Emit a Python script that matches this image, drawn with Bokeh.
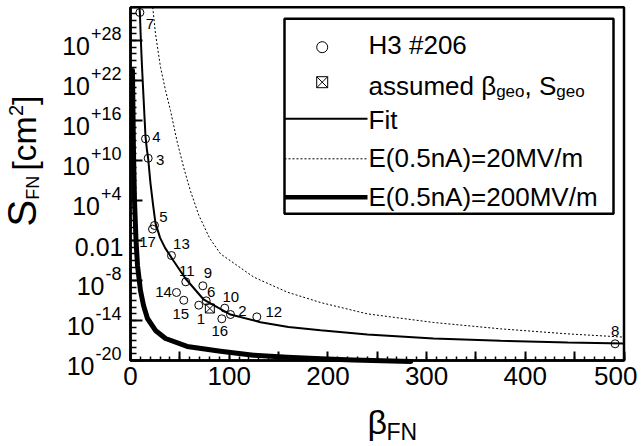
import math
from bokeh.plotting import figure
from bokeh.models import (FixedTicker, Label, BoxAnnotation, ColumnDataSource,
                          BasicTickFormatter, LinearAxis, LogAxis)
from bokeh.core.properties import value
from bokeh.embed import file_html
from bokeh.resources import INLINE

# ---------------- data ----------------
point_ids = ["7", "4", "3", "5", "17", "13", "11", "9", "14", "15", "6", "1", "10", "2", "16", "12", "8"]
beta_points = [9.5, 15.2, 17.9, 24.3, 22.3, 41.5, 56.0, 73.3, 46.6, 54.0, 76.7, 69.2, 95.5, 101.3, 92.5, 128.0, 491.0]
s_points = [1.6e32, 1.8e13, 2.2e10, 1.8e0, 5.2e-1, 5.6e-5, 6.3e-9, 1.6e-9, 1.6e-10, 1.1e-11,
            8.9e-12, 2.0e-12, 7.1e-13, 7.9e-14, 1.8e-14, 3.5e-14, 3.2e-18]

beta_geo = [80.4]
s_geo = [6.3e-13]

fit_beta = [9.0, 9.5, 10.5, 11.5, 12.5, 13.5, 14.5, 15.2, 16.5, 17.9, 20.3, 23.0, 25.3, 30.0, 35.0,
            43.9, 55.7, 74.3, 101.3, 131.7, 160, 192.5, 240, 307, 375, 443, 500]
fit_s = [1.0e33, 1.6e32, 1.0e28, 4.0e24, 3.2e21, 4.0e18, 4.0e15, 4.0e13, 6.3e11, 2.0e10, 3.2e6, 1.6e3,
         4.0e0, 2.5e-2, 7.9e-4, 7.9e-6, 2.0e-8, 1.3e-11, 7.9e-14, 5.6e-15, 1.1e-15, 3.5e-16,
         7.9e-17, 2.0e-17, 8.9e-18, 5.0e-18, 3.5e-18]

e20_beta = [22.5, 23.3, 25.3, 30.4, 35.5, 40.5, 47.3, 54.0, 60.8, 69.2, 80.0, 91.2, 124.9, 158.8,
            192.5, 239.8, 307.3, 374.9, 442.4, 500]
e20_s = [1.0e33, 7.9e31, 1.1e29, 1.0e24, 3.2e20, 3.2e17, 6.3e12, 7.9e8, 2.5e5, 6.3e1, 2.5e-2,
         1.0e-4, 3.2e-8, 1.8e-10, 5.0e-12, 1.0e-13, 5.0e-15, 5.6e-16, 1.0e-16, 3.2e-17]

e200_beta = [2.0, 3.0, 4.05, 5.6, 7.1, 10.1, 13.2, 17.2, 25.3, 35.5, 57.4, 91.2, 124.6, 159,
             192.5, 226, 284]
e200_s = [3.2e23, 3.2e11, 1.0e4, 1.0e-2, 1.8e-6, 3.2e-10, 1.8e-12, 2.0e-14, 3.2e-16, 2.0e-17,
          1.3e-18, 2.5e-19, 6.3e-20, 3.2e-20, 1.8e-20, 1.2e-20, 7.1e-21]

x_tick_labels = [0, 100, 200, 300, 400, 500]
y_tick_exponents = [-20, -14, -8, -2, 4, 10, 16, 22, 28]
y_tick_base = ["10", "10", "10", "0.01", "10", "10", "10", "10", "10"]
y_tick_sup = ["-20", "-14", "-8", "", "+4", "+10", "+16", "+22", "+28"]

legend_texts = ["H3 #206", "assumed \u03b2", "Fit", "E(0.5nA)=20MV/m", "E(0.5nA)=200MV/m"]

# ---------------- layout helpers (canvas pixels) ----------------
FONT = "Liberation Sans"
CW, CH = 642, 446
X0, X1 = 0.0, 500.0
L0, L1 = -20.0, 33.0
PXL, PXR = 130.0, 623.5     # canvas x of beta = 0 and beta = 500
PYT, PYB = 6.7, 360.0       # canvas y of S = 1e33 and S = 1e-20
KX = (X1 - X0) / (PXR - PXL)
KY = (L1 - L0) / (PYB - PYT)

def xd(px):
    return X0 + (px - PXL) * KX

def yd(py):
    return 10 ** (L1 - (py - PYT) * KY)

def py_of(logv):
    return PYT + (L1 - logv) / KY

W = {"+": .584, "-": .333, ".": .278, " ": .278, ",": .278, "[": .278, "]": .278,
     "a": .556, "s": .5, "u": .556, "m": .833, "e": .556, "d": .556, "g": .556, "o": .556,
     "c": .5, "S": .667, "F": .611, "N": .722, "\u03b2": .575}

def tw(s, size):
    return sum(W.get(ch, .556) for ch in s) * size

# ---------------- figure (frame = whole canvas) ----------------
p = figure(width=CW, height=CH,
           x_range=(xd(0), xd(CW)), y_range=(yd(CH), yd(0)), y_axis_type="log",
           x_axis_location=None, y_axis_location=None,
           output_backend="svg", toolbar_location=None,
           min_border=0, min_border_left=0, min_border_right=0,
           min_border_top=0, min_border_bottom=0)
p.background_fill_color = "white"
p.border_fill_color = "white"
p.outline_line_color = None
p.xgrid.visible = False
p.ygrid.visible = False

xaxis = LinearAxis(fixed_location=10 ** L0, bounds=(X0, X1),
                   ticker=FixedTicker(ticks=list(range(0, 501, 50)),
                                      minor_ticks=list(range(0, 501, 10))))
yaxis = LogAxis(fixed_location=X0, bounds=(10 ** L0, 10 ** L1),
                ticker=FixedTicker(ticks=[10.0 ** k for k in range(-20, 29, 6)],
                                   minor_ticks=[10.0 ** k for k in range(-20, 34)]))
for ax in (xaxis, yaxis):
    ax.formatter = BasicTickFormatter()
    ax.axis_line_width = 2.5
    ax.axis_line_color = "black"
    ax.major_tick_out = 0
    ax.minor_tick_out = 0
    ax.major_tick_line_width = 2
    ax.minor_tick_line_width = 1.5
    ax.major_tick_line_color = "black"
    ax.minor_tick_line_color = "black"
    ax.major_label_text_color = None
    ax.major_label_text_font_size = "1px"
    ax.major_label_standoff = 0
xaxis.major_tick_in = 9
xaxis.minor_tick_in = 4
yaxis.major_tick_in = 12
yaxis.minor_tick_in = 6
p.add_layout(xaxis, "below")
p.add_layout(yaxis, "left")

# plot box (top and right edges)
p.add_layout(BoxAnnotation(left=X0, right=X1, bottom=10 ** L0, top=10 ** L1,
                           fill_color=None, line_color="black", line_width=2.5, line_alpha=1))

# curves
p.line(e20_beta, e20_s, line_color="black", line_width=1, line_dash="2 2")
p.line(fit_beta, fit_s, line_color="black", line_width=2)
p.line(e200_beta, e200_s, line_color="black", line_width=5, line_join="round", line_cap="round")

# points
p.scatter(beta_points, s_points, marker="circle", size=8, fill_color=None,
          line_color="black", line_width=1)
p.scatter(beta_geo, s_geo, marker="square_x", size=9, fill_color=None,
          line_color="black", line_width=1)

label_dx = [10, 11, 12, 9, -5, 10, 1, 5, -13, -3, 5, 2, 6, 12, -2, 17, 0]
label_dy = [11, -2, 2, -8, 13, -12, -11, -13, 0, 14, -9, 14, -11, -4, 12, -5, -13]
src = ColumnDataSource(dict(x=beta_points, y=s_points, t=point_ids, dx=label_dx, dy=label_dy))
p.text(x="x", y="y", text="t", x_offset="dx", y_offset="dy", source=src,
       text_font=value(FONT), text_font_size="15px", text_color="black",
       text_align="center", text_baseline="middle")

# ---------------- text helpers ----------------
def add_label(x, y, text, size, align="left", angle=0.0):
    p.add_layout(Label(x=x, y=y, text=text, text_font=FONT, text_font_size=f"{size}px",
                       text_color="black", text_align=align, text_baseline="middle",
                       angle=angle))

# y tick labels
for k, base, sup in zip(y_tick_exponents, y_tick_base, y_tick_sup):
    tick_py = py_of(k)
    if sup:
        sw = tw(sup, 18)
        split = PXL - 10 - sw
        add_label(xd(split), yd(tick_py + 5), base, 25, align="right")
        add_label(xd(split + 1), yd(tick_py - 7), sup, 18, align="left")
    else:
        add_label(xd(PXL - 7), yd(tick_py + 6), base, 25, align="right")

# x tick labels
for v in x_tick_labels:
    if v == x_tick_labels[-1]:
        add_label(xd(637), yd(375.5), str(v), 26, align="right")
    else:
        add_label(v, yd(375.5), str(v), 26, align="center")

# axis titles
add_label(xd(367), yd(421), "\u03b2", 34)
add_label(xd(386), yd(431.5), "FN", 23)

ang = math.pi / 2
yy = 226.0
add_label(xd(21), yd(yy), "S", 40, angle=ang)
yy -= tw("S", 40)
add_label(xd(32.5), yd(yy), "FN", 18, angle=ang)
yy -= tw("FN", 18) + 5
add_label(xd(23), yd(yy), "[cm", 34, angle=ang)
yy -= tw("[cm", 34)
add_label(xd(15), yd(yy), "2", 20, angle=ang)
yy -= tw("2", 20)
add_label(xd(23), yd(yy), "]", 34, angle=ang)

# ---------------- legend ----------------
p.add_layout(BoxAnnotation(left=xd(284), right=xd(613), top=yd(18.3), bottom=yd(213.3),
                           fill_color="white", fill_alpha=1, line_color="black",
                           line_width=2.5, line_alpha=1))
rows = [46.7, 81.7, 118.3, 158.3, 196.7]
text_rows = [44.0, 85.5, 119.0, 157.5, 196.0]
p.scatter([xd(321.7)], [yd(rows[0])], marker="circle", size=11, fill_color=None,
          line_color="black", line_width=1, level="overlay")
p.scatter([xd(321.7)], [yd(rows[1])], marker="square_x", size=11, fill_color=None,
          line_color="black", line_width=1, level="overlay")
p.line([xd(284), xd(367)], [yd(rows[2])] * 2, line_color="black", line_width=2, level="overlay")
p.line([xd(284), xd(367)], [yd(rows[3])] * 2, line_color="black", line_width=1,
       line_dash="2 2", level="overlay")
p.line([xd(284), xd(367)], [yd(rows[4])] * 2, line_color="black", line_width=4.5, level="overlay")

TX = 368
LS = 26
for i in (0, 2, 3, 4):
    add_label(xd(TX), yd(text_rows[i]), legend_texts[i], LS)
cx = TX
add_label(xd(cx), yd(text_rows[1]), legend_texts[1], LS)
cx += tw(legend_texts[1], LS)
add_label(xd(cx), yd(text_rows[1] + 5.5), "geo", 17)
cx += tw("geo", 17)
add_label(xd(cx), yd(text_rows[1]), ", S", LS)
cx += tw(", S", LS)
add_label(xd(cx), yd(text_rows[1] + 5.5), "geo", 17)

open("out.html", "w").write(file_html(p, INLINE))
